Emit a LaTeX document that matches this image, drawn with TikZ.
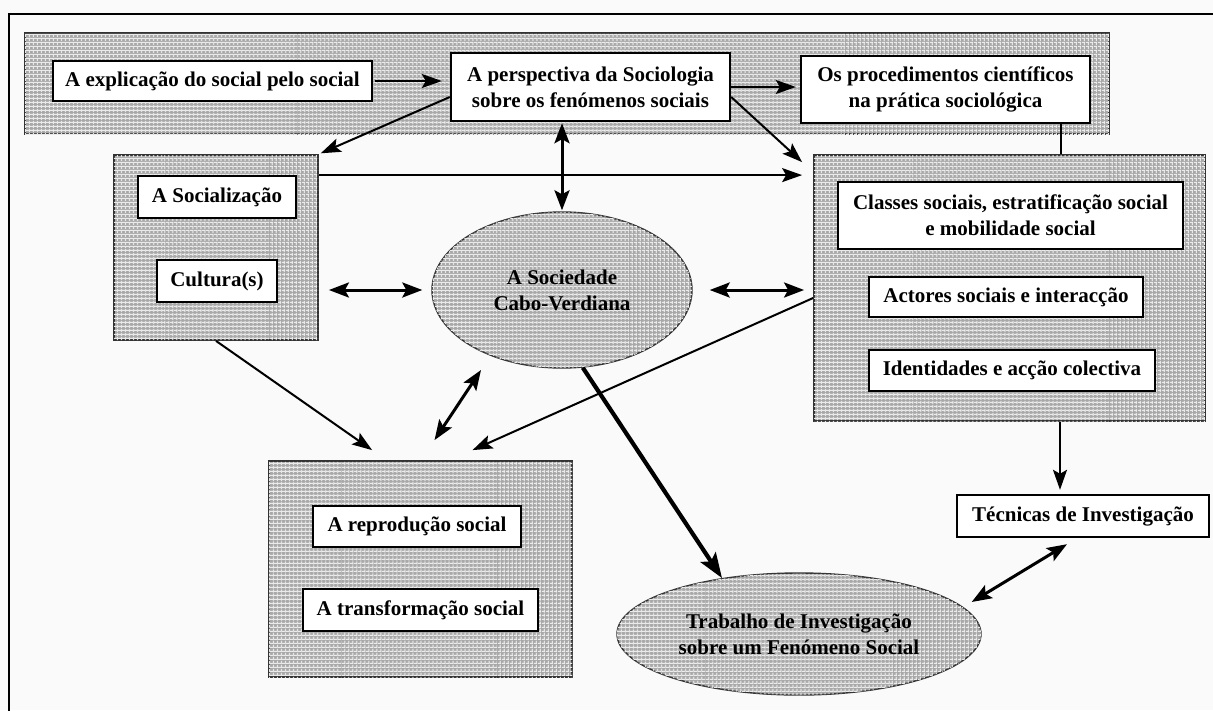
\documentclass[tikz,border=0pt]{standalone}
\usepackage{fontspec}
\setmainfont{Liberation Serif}
\usetikzlibrary{arrows.meta,patterns.meta,shapes.geometric}
\begin{document}
\begin{tikzpicture}[x=1pt,y=-1pt,
  txt/.style={font=\bfseries\fontsize{21}{26}\selectfont, align=center},
  hatch/.style={fill=black!34,
    postaction={pattern={Lines[angle=0,distance=4pt,line width=1.2pt]}, pattern color=white!92!black},
    postaction={pattern={Lines[angle=90,distance=4pt,line width=1.2pt]}, pattern color=white!92!black}},
  grp/.style={hatch, draw=black!80, line width=1.8pt, inner sep=0pt},
  box/.style={txt, draw=black, line width=2.4pt, fill=white, inner sep=0pt},
  ell/.style={txt, ellipse, hatch, draw=black!80, line width=1.4pt, inner sep=0pt},
  arr/.style={-{Stealth[length=20pt,width=14pt,inset=4pt]}, line width=2pt},
  darr/.style={{Stealth[length=20pt,width=15pt,inset=4pt]}-{Stealth[length=20pt,width=15pt,inset=4pt]}, line width=3pt},
  tarr/.style={-{Stealth[length=25pt,width=18pt,inset=5pt]}, line width=4.2pt},
  plain/.style={line width=1.6pt}]
\useasboundingbox (0,0) rectangle (1213,710);
\fill[white!98!black] (0,0) rectangle (1213,710);
\draw[line width=2.8pt] (9,720) -- (9,14) -- (1220,14);

% groups
\node[grp, minimum width=1084pt, minimum height=101pt] (band) at (567,83.5) {};
\node[grp, minimum width=204pt, minimum height=185pt] (lgrp) at (216,247.5) {};
\node[grp, minimum width=391pt, minimum height=266pt] (rgrp) at (1009.5,288) {};
\node[grp, minimum width=303pt, minimum height=216pt] (bgrp) at (420.5,569) {};

% boxes
\node[box, minimum width=319pt, minimum height=40pt] (expl) at (212.5,81) {A explicação do social pelo social};
\node[box, minimum width=279pt, minimum height=68pt] (persp) at (590.5,87) {A perspectiva da Sociologia\\sobre os fenómenos sociais};
\node[box, minimum width=289pt, minimum height=67pt] (proc) at (945.5,89.5) {Os procedimentos científicos\\na prática sociológica};
\node[box, minimum width=158pt, minimum height=42pt] (soc) at (217,197) {A Socialização};
\node[box, minimum width=120pt, minimum height=42pt] (cult) at (217,281) {Cultura(s)};
\node[box, minimum width=345pt, minimum height=67pt] (classes) at (1010.5,215.5) {Classes sociais, estratificação social\\e mobilidade social};
\node[box, minimum width=274pt, minimum height=40pt] (actores) at (1006,297) {Actores sociais e interacção};
\node[box, minimum width=286pt, minimum height=41pt] (ident) at (1012,370.5) {Identidades e acção colectiva};
\node[box, minimum width=252pt, minimum height=42pt] (tec) at (1083,516) {Técnicas de Investigação};
\node[box, minimum width=208pt, minimum height=41pt] (repro) at (417,526.5) {A reprodução social};
\node[box, minimum width=235pt, minimum height=42pt] (transf) at (420.5,610) {A transformação social};

% ellipses
\node[ell, minimum width=260pt, minimum height=156pt] (soc1) at (562,290) {A Sociedade\\Cabo-Verdiana};
\node[ell, minimum width=364pt, minimum height=122pt] (trab) at (799,634) {Trabalho de Investigação\\sobre um Fenómeno Social};

% connectors
\draw[arr, shorten <=2pt, shorten >=8pt] (expl.east) -- (expl.east -| persp.west);
\draw[arr, shorten >=4pt] (persp.east) -- (persp.east -| proc.west);
\draw[arr, shorten >=2pt] ([yshift=-10pt]persp.west) -- (lgrp.north east);
\draw[arr] ([yshift=-10pt]persp.east) -- ([xshift=-11pt,yshift=-8pt]rgrp.north west);
\draw[darr, shorten <=1pt, shorten >=1pt] (soc1.north |- persp.south) -- (soc1.north);
\draw[arr] ([yshift=-21pt]lgrp.north east) -- ([xshift=-11pt,yshift=-21pt]rgrp.north west);
\draw[plain] ([xshift=-30pt]proc.south east) -- ([xshift=-30pt]proc.south east |- rgrp.north);
\draw[darr] ([xshift=10pt]lgrp.east |- soc1.west) -- ([xshift=-9pt]soc1.west);
\draw[darr, shorten >=9pt] ([xshift=17pt]soc1.east) -- (soc1.east -| rgrp.west);
\draw[arr] (lgrp.south) -- ([xshift=104pt,yshift=10pt]bgrp.north west);
\draw[darr] ([shift={(-81pt,-80pt)}]soc1.center) -- ([xshift=14pt,yshift=20pt]bgrp.north);
\draw[arr] ([yshift=-10pt]rgrp.west) -- ([xshift=52pt,yshift=10pt]bgrp.north);
\draw[tarr] (soc1.285) -- (trab.144);
\draw[arr, shorten >=4pt] ([xshift=-23pt]tec.north |- rgrp.south) -- ([xshift=-23pt]tec.north);
\draw[darr] ([xshift=-16pt,yshift=-6pt]tec.south) -- ([xshift=-10pt,yshift=32pt]trab.east);
\end{tikzpicture}
\end{document}
